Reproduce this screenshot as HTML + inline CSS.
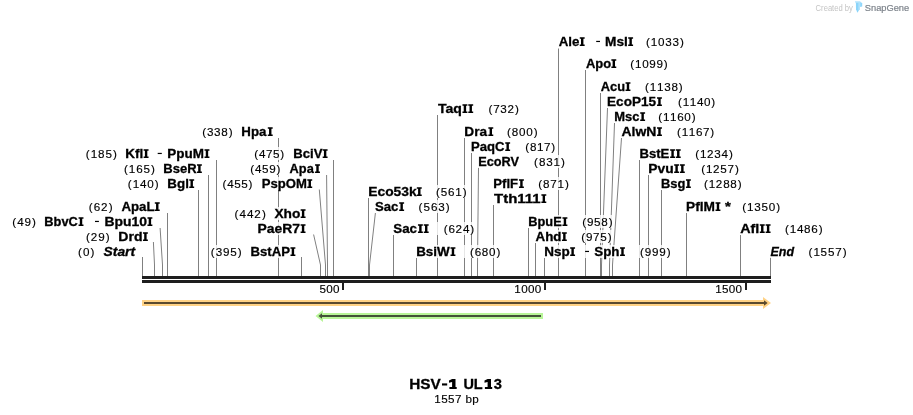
<!DOCTYPE html>
<html><head><meta charset="utf-8"><style>
html,body{margin:0;padding:0;background:#fff;width:913px;height:415px;overflow:hidden}
svg{display:block;will-change:transform}
text{font-family:"Liberation Sans",sans-serif}
</style></head><body>
<svg width="913" height="415" viewBox="0 0 913 415">
<g fill="none" stroke="#808080" stroke-width="1">
<path d="M142.5 257V276"/>
<path d="M153.4 242L154.5 265V276"/>
<path d="M160.1 228L162.5 265V276"/>
<path d="M167.5 213V276"/>
<path d="M198.5 190V276"/>
<path d="M208.5 175V276"/>
<path d="M216.5 160V276"/>
<path d="M278.5 138V276"/>
<path d="M301.5 257V276"/>
<path d="M313.6 234.5L320.5 265V276"/>
<path d="M319.3 189.5L325.5 265V276"/>
<path d="M326.6 175L327.5 265V276"/>
<path d="M333.5 160V276"/>
<path d="M368.5 198V276"/>
<path d="M375.4 213L369.5 265V276"/>
<path d="M393.5 235V276"/>
<path d="M416.5 258V276"/>
<path d="M437.5 115V276"/>
<path d="M464.5 138V276"/>
<path d="M471.5 153V276"/>
<path d="M478.5 167.5L477.5 265V276"/>
<path d="M493.5 205V276"/>
<path d="M528.5 228V276"/>
<path d="M535.5 243V276"/>
<path d="M544.5 258V276"/>
<path d="M558.5 48.5V276"/>
<path d="M585.5 70V276"/>
<path d="M600.5 93V276"/>
<path d="M607.5 108L601.5 265V276"/>
<path d="M614.5 123L609.5 265V276"/>
<path d="M621.5 138L612.5 265V276"/>
<path d="M639.5 160V276"/>
<path d="M648.5 175V276"/>
<path d="M661.5 190V276"/>
<path d="M686.5 213V276"/>
<path d="M740.5 235V276"/>
<path d="M770.5 257V276"/>
</g>
<g fill="#fff" fill-opacity="0.8">
<rect x="76.5" y="245" width="61.5" height="13"/>
<rect x="84.6" y="230" width="65.7" height="13"/>
<rect x="10.7" y="215" width="144.1" height="13"/>
<rect x="87.3" y="200" width="74.8" height="13"/>
<rect x="126.3" y="177" width="70.3" height="13"/>
<rect x="122.5" y="162" width="81.8" height="13"/>
<rect x="84.3" y="147" width="127.5" height="13"/>
<rect x="200.7" y="125" width="74.4" height="13"/>
<rect x="209.3" y="245" width="88.5" height="13"/>
<rect x="233.1" y="207" width="74.9" height="13"/>
<rect x="255.9" y="222" width="52.1" height="13"/>
<rect x="221.0" y="177" width="93.6" height="13"/>
<rect x="248.9" y="162" width="73.4" height="13"/>
<rect x="252.8" y="147" width="77.2" height="13"/>
<rect x="366.7" y="185" width="101.3" height="13"/>
<rect x="372.9" y="200" width="78.3" height="13"/>
<rect x="391.3" y="222" width="84.4" height="13"/>
<rect x="414.6" y="245" width="87.2" height="13"/>
<rect x="435.6" y="102" width="84.7" height="13"/>
<rect x="462.8" y="125" width="76.3" height="13"/>
<rect x="469.3" y="140" width="87.4" height="13"/>
<rect x="476.6" y="155" width="89.9" height="13"/>
<rect x="491.7" y="177" width="78.6" height="13"/>
<rect x="491.7" y="192" width="57.0" height="13"/>
<rect x="526.7" y="215" width="87.4" height="13"/>
<rect x="533.4" y="230" width="79.6" height="13"/>
<rect x="542.7" y="245" width="129.3" height="13"/>
<rect x="556.6" y="35" width="128.8" height="13"/>
<rect x="583.8" y="57" width="85.4" height="13"/>
<rect x="598.7" y="80" width="85.5" height="13"/>
<rect x="605.5" y="95" width="111.2" height="13"/>
<rect x="612.7" y="110" width="84.3" height="13"/>
<rect x="619.4" y="125" width="96.3" height="13"/>
<rect x="637.8" y="147" width="96.5" height="13"/>
<rect x="646.7" y="162" width="93.6" height="13"/>
<rect x="659.4" y="177" width="83.6" height="13"/>
<rect x="684.5" y="200" width="97.0" height="13"/>
<rect x="738.1" y="222" width="85.9" height="13"/>
<rect x="768.3" y="245" width="79.7" height="13"/>
</g>
<g fill="#000">
<text x="78.02 83.01 90.60" y="256" font-size="11.66" font-weight="400" stroke="#000" stroke-width="0.15">(0)</text>
<text x="103.54" y="256" font-size="12.72" font-weight="700" font-style="italic" stroke="#000" stroke-width="0.3" textLength="31.57" lengthAdjust="spacingAndGlyphs">Start</text>
<text x="86.09 90.78 98.16 105.63" y="241" font-size="11.66" font-weight="400" stroke="#000" stroke-width="0.15">(29)</text>
<text x="118.34" y="241" font-size="12.72" font-weight="700" stroke="#000" stroke-width="0.3" textLength="24.19" lengthAdjust="spacingAndGlyphs">Drd</text>
<path d="M142.96 232.25h4.90v1.40h-1.25v5.95h1.25v1.40h-4.90v-1.40h1.25v-5.95h-1.25z"/>
<text x="12.21 17.13 24.46 32.02" y="226" font-size="11.66" font-weight="400" stroke="#000" stroke-width="0.15">(49)</text>
<text x="44.32" y="226" font-size="12.72" font-weight="700" stroke="#000" stroke-width="0.3" textLength="33.48" lengthAdjust="spacingAndGlyphs">BbvC</text>
<path d="M78.57 217.25h4.90v1.40h-1.25v5.95h1.25v1.40h-4.90v-1.40h1.25v-5.95h-1.25z"/>
<text x="104.54" y="226" font-size="12.72" font-weight="700" stroke="#000" stroke-width="0.3" textLength="42.58" lengthAdjust="spacingAndGlyphs">Bpu10</text>
<path d="M147.46 217.25h4.90v1.40h-1.25v5.95h1.25v1.40h-4.90v-1.40h1.25v-5.95h-1.25z"/>
<text x="88.82 93.82 101.08 108.80" y="211" font-size="11.66" font-weight="400" stroke="#000" stroke-width="0.15">(62)</text>
<text x="121.42" y="211" font-size="12.72" font-weight="700" stroke="#000" stroke-width="0.3" textLength="33.17" lengthAdjust="spacingAndGlyphs">ApaL</text>
<path d="M154.81 202.25h4.90v1.40h-1.25v5.95h1.25v1.40h-4.90v-1.40h1.25v-5.95h-1.25z"/>
<text x="127.80 132.63 139.96 147.26 154.73" y="188" font-size="11.66" font-weight="400" stroke="#000" stroke-width="0.15">(140)</text>
<text x="167.38" y="188" font-size="12.72" font-weight="700" stroke="#000" stroke-width="0.3" textLength="21.51" lengthAdjust="spacingAndGlyphs">Bgl</text>
<path d="M189.26 179.25h4.90v1.40h-1.25v5.95h1.25v1.40h-4.90v-1.40h1.25v-5.95h-1.25z"/>
<text x="124.00 128.83 136.19 143.40 150.93" y="173" font-size="11.66" font-weight="400" stroke="#000" stroke-width="0.15">(165)</text>
<text x="163.30" y="173" font-size="12.72" font-weight="700" stroke="#000" stroke-width="0.3" textLength="33.34" lengthAdjust="spacingAndGlyphs">BseR</text>
<path d="M196.96 164.25h4.90v1.40h-1.25v5.95h1.25v1.40h-4.90v-1.40h1.25v-5.95h-1.25z"/>
<text x="85.81 90.70 98.11 105.43 113.01" y="158" font-size="11.66" font-weight="400" stroke="#000" stroke-width="0.15">(185)</text>
<text x="125.27" y="158" font-size="12.72" font-weight="700" stroke="#000" stroke-width="0.3" textLength="17.95" lengthAdjust="spacingAndGlyphs">Kfl</text>
<path d="M143.65 149.25h4.90v1.40h-1.25v5.95h1.25v1.40h-4.90v-1.40h1.25v-5.95h-1.25z"/>
<text x="167.37" y="158" font-size="12.72" font-weight="700" stroke="#000" stroke-width="0.3" textLength="36.66" lengthAdjust="spacingAndGlyphs">PpuM</text>
<path d="M204.51 149.25h4.90v1.40h-1.25v5.95h1.25v1.40h-4.90v-1.40h1.25v-5.95h-1.25z"/>
<text x="202.17 206.94 214.11 221.28 228.65" y="136" font-size="11.66" font-weight="400" stroke="#000" stroke-width="0.15">(338)</text>
<text x="241.39" y="136" font-size="12.72" font-weight="700" stroke="#000" stroke-width="0.3" textLength="25.09" lengthAdjust="spacingAndGlyphs">Hpa</text>
<path d="M267.79 127.25h4.90v1.40h-1.25v5.95h1.25v1.40h-4.90v-1.40h1.25v-5.95h-1.25z"/>
<text x="210.79 215.64 222.88 230.13 237.63" y="256" font-size="11.66" font-weight="400" stroke="#000" stroke-width="0.15">(395)</text>
<text x="250.49" y="256" font-size="12.72" font-weight="700" stroke="#000" stroke-width="0.3" textLength="39.52" lengthAdjust="spacingAndGlyphs">BstAP</text>
<path d="M290.47 247.25h4.90v1.40h-1.25v5.95h1.25v1.40h-4.90v-1.40h1.25v-5.95h-1.25z"/>
<text x="234.62 239.61 247.06 254.36 262.10" y="218" font-size="11.66" font-weight="400" stroke="#000" stroke-width="0.15">(442)</text>
<text x="274.41" y="218" font-size="12.72" font-weight="700" stroke="#000" stroke-width="0.3" textLength="25.93" lengthAdjust="spacingAndGlyphs">Xho</text>
<path d="M300.66 209.25h4.90v1.40h-1.25v5.95h1.25v1.40h-4.90v-1.40h1.25v-5.95h-1.25z"/>
<text x="257.45" y="233" font-size="12.72" font-weight="700" stroke="#000" stroke-width="0.3" textLength="42.44" lengthAdjust="spacingAndGlyphs">PaeR7</text>
<path d="M300.61 224.25h4.90v1.40h-1.25v5.95h1.25v1.40h-4.90v-1.40h1.25v-5.95h-1.25z"/>
<text x="222.46 227.14 234.15 241.23 248.57" y="188" font-size="11.66" font-weight="400" stroke="#000" stroke-width="0.15">(455)</text>
<text x="261.70" y="188" font-size="12.72" font-weight="700" stroke="#000" stroke-width="0.3" textLength="45.13" lengthAdjust="spacingAndGlyphs">PspOM</text>
<path d="M307.30 179.25h4.90v1.40h-1.25v5.95h1.25v1.40h-4.90v-1.40h1.25v-5.95h-1.25z"/>
<text x="250.36 255.04 262.05 269.15 276.47" y="173" font-size="11.66" font-weight="400" stroke="#000" stroke-width="0.15">(459)</text>
<text x="289.63" y="173" font-size="12.72" font-weight="700" stroke="#000" stroke-width="0.3" textLength="24.18" lengthAdjust="spacingAndGlyphs">Apa</text>
<path d="M315.05 164.25h4.90v1.40h-1.25v5.95h1.25v1.40h-4.90v-1.40h1.25v-5.95h-1.25z"/>
<text x="254.26 258.94 265.98 273.03 280.37" y="158" font-size="11.66" font-weight="400" stroke="#000" stroke-width="0.15">(475)</text>
<text x="293.30" y="158" font-size="12.72" font-weight="700" stroke="#000" stroke-width="0.3" textLength="29.14" lengthAdjust="spacingAndGlyphs">BciV</text>
<path d="M322.68 149.25h4.90v1.40h-1.25v5.95h1.25v1.40h-4.90v-1.40h1.25v-5.95h-1.25z"/>
<text x="368.25" y="196" font-size="12.72" font-weight="700" stroke="#000" stroke-width="0.3" textLength="48.43" lengthAdjust="spacingAndGlyphs">Eco53k</text>
<path d="M416.84 187.25h4.90v1.40h-1.25v5.95h1.25v1.40h-4.90v-1.40h1.25v-5.95h-1.25z"/>
<text x="436.08 440.80 448.09 455.23 462.65" y="196" font-size="11.66" font-weight="400" stroke="#000" stroke-width="0.15">(561)</text>
<text x="374.96" y="211" font-size="12.72" font-weight="700" stroke="#000" stroke-width="0.3" textLength="23.38" lengthAdjust="spacingAndGlyphs">Sac</text>
<path d="M399.21 202.25h4.90v1.40h-1.25v5.95h1.25v1.40h-4.90v-1.40h1.25v-5.95h-1.25z"/>
<text x="418.51 423.40 430.89 438.26 445.81" y="211" font-size="11.66" font-weight="400" stroke="#000" stroke-width="0.15">(563)</text>
<text x="393.35" y="233" font-size="12.72" font-weight="700" stroke="#000" stroke-width="0.3" textLength="23.69" lengthAdjust="spacingAndGlyphs">Sac</text>
<path d="M417.95 224.25h4.90v1.40h-1.25v5.95h1.25v1.40h-4.90v-1.40h1.25v-5.95h-1.25z"/>
<path d="M423.77 224.25h4.90v1.40h-1.25v5.95h1.25v1.40h-4.90v-1.40h1.25v-5.95h-1.25z"/>
<text x="443.78 448.59 455.62 462.96 470.35" y="233" font-size="11.66" font-weight="400" stroke="#000" stroke-width="0.15">(624)</text>
<text x="416.18" y="256" font-size="12.72" font-weight="700" stroke="#000" stroke-width="0.3" textLength="33.59" lengthAdjust="spacingAndGlyphs">BsiW</text>
<path d="M450.51 247.25h4.90v1.40h-1.25v5.95h1.25v1.40h-4.90v-1.40h1.25v-5.95h-1.25z"/>
<text x="469.88 474.69 481.86 489.06 496.45" y="256" font-size="11.66" font-weight="400" stroke="#000" stroke-width="0.15">(680)</text>
<text x="437.91" y="113" font-size="12.72" font-weight="700" stroke="#000" stroke-width="0.3" textLength="23.96" lengthAdjust="spacingAndGlyphs">Taq</text>
<path d="M462.47 104.25h4.90v1.40h-1.25v5.95h1.25v1.40h-4.90v-1.40h1.25v-5.95h-1.25z"/>
<path d="M468.28 104.25h4.90v1.40h-1.25v5.95h1.25v1.40h-4.90v-1.40h1.25v-5.95h-1.25z"/>
<text x="488.38 493.13 500.36 507.42 514.95" y="113" font-size="11.66" font-weight="400" stroke="#000" stroke-width="0.15">(732)</text>
<text x="464.37" y="136" font-size="12.72" font-weight="700" stroke="#000" stroke-width="0.3" textLength="22.68" lengthAdjust="spacingAndGlyphs">Dra</text>
<path d="M488.36 127.25h4.90v1.40h-1.25v5.95h1.25v1.40h-4.90v-1.40h1.25v-5.95h-1.25z"/>
<text x="506.99 511.81 519.06 526.31 533.74" y="136" font-size="11.66" font-weight="400" stroke="#000" stroke-width="0.15">(800)</text>
<text x="470.90" y="151" font-size="12.72" font-weight="700" stroke="#000" stroke-width="0.3" textLength="33.50" lengthAdjust="spacingAndGlyphs">PaqC</text>
<path d="M505.23 142.25h4.90v1.40h-1.25v5.95h1.25v1.40h-4.90v-1.40h1.25v-5.95h-1.25z"/>
<text x="525.26 529.94 536.97 544.05 551.37" y="151" font-size="11.66" font-weight="400" stroke="#000" stroke-width="0.15">(817)</text>
<text x="478.22" y="166" font-size="12.72" font-weight="700" stroke="#000" stroke-width="0.3" textLength="40.90" lengthAdjust="spacingAndGlyphs">EcoRV</text>
<text x="534.10 538.98 546.31 553.60 561.12" y="166" font-size="11.66" font-weight="400" stroke="#000" stroke-width="0.15">(831)</text>
<text x="493.30" y="188" font-size="12.72" font-weight="700" stroke="#000" stroke-width="0.3" textLength="24.82" lengthAdjust="spacingAndGlyphs">PflF</text>
<path d="M518.98 179.25h4.90v1.40h-1.25v5.95h1.25v1.40h-4.90v-1.40h1.25v-5.95h-1.25z"/>
<text x="538.19 543.01 550.23 557.48 564.94" y="188" font-size="11.66" font-weight="400" stroke="#000" stroke-width="0.15">(871)</text>
<text x="494.00" y="203" font-size="12.72" font-weight="700" stroke="#000" stroke-width="0.3" textLength="46.64" lengthAdjust="spacingAndGlyphs">Tth111</text>
<path d="M541.38 194.25h4.90v1.40h-1.25v5.95h1.25v1.40h-4.90v-1.40h1.25v-5.95h-1.25z"/>
<text x="528.32" y="226" font-size="12.72" font-weight="700" stroke="#000" stroke-width="0.3" textLength="33.42" lengthAdjust="spacingAndGlyphs">BpuE</text>
<path d="M562.48 217.25h4.90v1.40h-1.25v5.95h1.25v1.40h-4.90v-1.40h1.25v-5.95h-1.25z"/>
<text x="582.18 586.93 594.10 601.36 608.75" y="226" font-size="11.66" font-weight="400" stroke="#000" stroke-width="0.15">(958)</text>
<text x="535.52" y="241" font-size="12.72" font-weight="700" stroke="#000" stroke-width="0.3" textLength="25.92" lengthAdjust="spacingAndGlyphs">Ahd</text>
<path d="M561.91 232.25h4.90v1.40h-1.25v5.95h1.25v1.40h-4.90v-1.40h1.25v-5.95h-1.25z"/>
<text x="581.17 585.91 593.08 600.23 607.65" y="241" font-size="11.66" font-weight="400" stroke="#000" stroke-width="0.15">(975)</text>
<text x="544.27" y="256" font-size="12.72" font-weight="700" stroke="#000" stroke-width="0.3" textLength="25.47" lengthAdjust="spacingAndGlyphs">Nsp</text>
<path d="M570.16 247.25h4.90v1.40h-1.25v5.95h1.25v1.40h-4.90v-1.40h1.25v-5.95h-1.25z"/>
<text x="594.25" y="256" font-size="12.72" font-weight="700" stroke="#000" stroke-width="0.3" textLength="25.26" lengthAdjust="spacingAndGlyphs">Sph</text>
<path d="M620.04 247.25h4.90v1.40h-1.25v5.95h1.25v1.40h-4.90v-1.40h1.25v-5.95h-1.25z"/>
<text x="639.98 644.76 651.98 659.21 666.64" y="256" font-size="11.66" font-weight="400" stroke="#000" stroke-width="0.15">(999)</text>
<text x="558.72" y="46" font-size="12.72" font-weight="700" stroke="#000" stroke-width="0.3" textLength="20.72" lengthAdjust="spacingAndGlyphs">Ale</text>
<path d="M579.76 37.25h4.90v1.40h-1.25v5.95h1.25v1.40h-4.90v-1.40h1.25v-5.95h-1.25z"/>
<text x="605.06" y="46" font-size="12.72" font-weight="700" stroke="#000" stroke-width="0.3" textLength="22.77" lengthAdjust="spacingAndGlyphs">Msl</text>
<path d="M628.18 37.25h4.90v1.40h-1.25v5.95h1.25v1.40h-4.90v-1.40h1.25v-5.95h-1.25z"/>
<text x="645.99 650.79 658.08 665.34 672.60 680.03" y="46" font-size="11.66" font-weight="400" stroke="#000" stroke-width="0.15">(1033)</text>
<text x="585.93" y="68" font-size="12.72" font-weight="700" stroke="#000" stroke-width="0.3" textLength="25.22" lengthAdjust="spacingAndGlyphs">Apo</text>
<path d="M611.36 59.25h4.90v1.40h-1.25v5.95h1.25v1.40h-4.90v-1.40h1.25v-5.95h-1.25z"/>
<text x="630.27 634.99 642.18 649.31 656.47 663.85" y="68" font-size="11.66" font-weight="400" stroke="#000" stroke-width="0.15">(1099)</text>
<text x="600.83" y="91" font-size="12.72" font-weight="700" stroke="#000" stroke-width="0.3" textLength="24.27" lengthAdjust="spacingAndGlyphs">Acu</text>
<path d="M625.53 82.25h4.90v1.40h-1.25v5.95h1.25v1.40h-4.90v-1.40h1.25v-5.95h-1.25z"/>
<text x="644.98 649.75 656.97 664.22 671.44 678.84" y="91" font-size="11.66" font-weight="400" stroke="#000" stroke-width="0.15">(1138)</text>
<text x="607.07" y="106" font-size="12.72" font-weight="700" stroke="#000" stroke-width="0.3" textLength="49.04" lengthAdjust="spacingAndGlyphs">EcoP15</text>
<path d="M657.01 97.25h4.90v1.40h-1.25v5.95h1.25v1.40h-4.90v-1.40h1.25v-5.95h-1.25z"/>
<text x="678.06 682.73 689.83 696.96 704.06 711.36" y="106" font-size="11.66" font-weight="400" stroke="#000" stroke-width="0.15">(1140)</text>
<text x="614.31" y="121" font-size="12.72" font-weight="700" stroke="#000" stroke-width="0.3" textLength="25.14" lengthAdjust="spacingAndGlyphs">Msc</text>
<path d="M640.19 112.25h4.90v1.40h-1.25v5.95h1.25v1.40h-4.90v-1.40h1.25v-5.95h-1.25z"/>
<text x="658.26 662.95 670.07 677.25 684.34 691.66" y="121" font-size="11.66" font-weight="400" stroke="#000" stroke-width="0.15">(1160)</text>
<text x="621.50" y="136" font-size="12.72" font-weight="700" stroke="#000" stroke-width="0.3" textLength="34.92" lengthAdjust="spacingAndGlyphs">AlwN</text>
<path d="M657.03 127.25h4.90v1.40h-1.25v5.95h1.25v1.40h-4.90v-1.40h1.25v-5.95h-1.25z"/>
<text x="677.06 681.73 688.83 695.99 703.03 710.36" y="136" font-size="11.66" font-weight="400" stroke="#000" stroke-width="0.15">(1167)</text>
<text x="639.40" y="158" font-size="12.72" font-weight="700" stroke="#000" stroke-width="0.3" textLength="29.93" lengthAdjust="spacingAndGlyphs">BstE</text>
<path d="M670.12 149.25h4.90v1.40h-1.25v5.95h1.25v1.40h-4.90v-1.40h1.25v-5.95h-1.25z"/>
<path d="M675.82 149.25h4.90v1.40h-1.25v5.95h1.25v1.40h-4.90v-1.40h1.25v-5.95h-1.25z"/>
<text x="695.18 699.93 707.02 714.36 721.56 728.95" y="158" font-size="11.66" font-weight="400" stroke="#000" stroke-width="0.15">(1234)</text>
<text x="648.25" y="173" font-size="12.72" font-weight="700" stroke="#000" stroke-width="0.3" textLength="25.35" lengthAdjust="spacingAndGlyphs">Pvu</text>
<path d="M674.15 164.25h4.90v1.40h-1.25v5.95h1.25v1.40h-4.90v-1.40h1.25v-5.95h-1.25z"/>
<path d="M679.90 164.25h4.90v1.40h-1.25v5.95h1.25v1.40h-4.90v-1.40h1.25v-5.95h-1.25z"/>
<text x="701.18 705.93 713.02 720.30 727.53 734.95" y="173" font-size="11.66" font-weight="400" stroke="#000" stroke-width="0.15">(1257)</text>
<text x="661.01" y="188" font-size="12.72" font-weight="700" stroke="#000" stroke-width="0.3" textLength="24.35" lengthAdjust="spacingAndGlyphs">Bsg</text>
<path d="M685.96 179.25h4.90v1.40h-1.25v5.95h1.25v1.40h-4.90v-1.40h1.25v-5.95h-1.25z"/>
<text x="704.07 708.79 715.84 723.14 730.30 737.65" y="188" font-size="11.66" font-weight="400" stroke="#000" stroke-width="0.15">(1288)</text>
<text x="686.06" y="211" font-size="12.72" font-weight="700" stroke="#000" stroke-width="0.3" textLength="28.97" lengthAdjust="spacingAndGlyphs">PflM</text>
<path d="M715.52 202.25h4.90v1.40h-1.25v5.95h1.25v1.40h-4.90v-1.40h1.25v-5.95h-1.25z"/>
<text x="725.08" y="211" font-size="12.72" font-weight="700" stroke="#000" stroke-width="0.3" textLength="5.83" lengthAdjust="spacingAndGlyphs">*</text>
<text x="742.19 746.97 754.24 761.42 768.72 776.14" y="211" font-size="11.66" font-weight="400" stroke="#000" stroke-width="0.15">(1350)</text>
<text x="740.19" y="233" font-size="12.72" font-weight="700" stroke="#000" stroke-width="0.3" textLength="19.14" lengthAdjust="spacingAndGlyphs">Afl</text>
<path d="M759.81 224.25h4.90v1.40h-1.25v5.95h1.25v1.40h-4.90v-1.40h1.25v-5.95h-1.25z"/>
<path d="M765.66 224.25h4.90v1.40h-1.25v5.95h1.25v1.40h-4.90v-1.40h1.25v-5.95h-1.25z"/>
<text x="784.98 789.71 796.92 804.10 811.31 818.65" y="233" font-size="11.66" font-weight="400" stroke="#000" stroke-width="0.15">(1486)</text>
<text x="770.50" y="256" font-size="12.72" font-weight="700" font-style="italic" stroke="#000" stroke-width="0.3" textLength="23.55" lengthAdjust="spacingAndGlyphs">End</text>
<text x="808.59 813.39 820.62 827.88 835.17 842.63" y="256" font-size="11.66" font-weight="400" stroke="#000" stroke-width="0.15">(1557)</text>
<rect x="95.00" y="220.85" width="3.90" height="1.2"/>
<rect x="157.70" y="152.85" width="4.10" height="1.2"/>
<rect x="585.10" y="250.85" width="3.90" height="1.2"/>
<rect x="596.20" y="40.85" width="3.80" height="1.2"/>

</g>
<g fill="#1e1e1e">
<rect x="142" y="276" width="629" height="3"/>
<rect x="142" y="280" width="629" height="3"/>
<rect x="342" y="283" width="2" height="7"/>
<rect x="544" y="283" width="2" height="7"/>
<rect x="745" y="283" width="2" height="7"/>
</g>
<g fill="#000">
<text x="319.47 326.24 332.95" y="293" font-size="11.66" font-weight="400" stroke="#000" stroke-width="0.15">500</text>
<text x="514.30 521.16 527.99 534.81" y="293" font-size="11.66" font-weight="400" stroke="#000" stroke-width="0.15">1000</text>
<text x="715.37 722.07 728.84 735.55" y="293" font-size="11.66" font-weight="400" stroke="#000" stroke-width="0.15">1500</text>
<text x="409.25" y="389" font-size="14.83" font-weight="700" stroke="#000" stroke-width="0.3" textLength="31.59" lengthAdjust="spacingAndGlyphs">HSV</text>
<rect x="442.0" y="383.4" width="5.2" height="2.1"/>
<path d="M452.1 379.1H455.5V387.1H456.7V389H449.4V387.1H452.1V381.9L449.0 382.8V380.6Z"/>
<text x="463.38" y="389" font-size="14.83" font-weight="700" stroke="#000" stroke-width="0.3" textLength="19.35" lengthAdjust="spacingAndGlyphs">UL</text>
<path d="M487.6 379.1H491.0V387.1H492.2V389H484.9V387.1H487.6V381.9L484.5 382.8V380.6Z"/>
<text x="493.78" y="389" font-size="14.83" font-weight="700" stroke="#000" stroke-width="0.3" textLength="8.20" lengthAdjust="spacingAndGlyphs">3</text>
<text x="434.31 441.15 448.00 454.88" y="403" font-size="11.66" font-weight="400" stroke="#000" stroke-width="0.15">1557</text>
<text x="465.43 472.31" y="403" font-size="11.66" font-weight="400" stroke="#000" stroke-width="0.15">bp</text>
</g>
<!-- orange feature -->
<path d="M142 300H763V297L771 303L763 309V306H142Z" fill="#ffd285"/>
<path d="M144 302H764V300.2L767.6 303L764 305.8V304H144Z" fill="#5a4a2f"/>
<!-- green feature -->
<path d="M543 313H323V310L315.5 316L323 322V319H543Z" fill="#b8f598"/>
<path d="M541 315H322V313.2L318.5 316L322 318.8V317H541Z" fill="#435138"/>
<!-- snapgene logo -->
<text x="815.6" y="10.7" font-size="8.6" fill="#c4c4c4" textLength="37.3" lengthAdjust="spacingAndGlyphs">Created by</text>
<path d="M855 1.1H860.4V2.7H855Z" fill="#bfe8fd"/>
<path d="M855.9 2.6H859.9L859.6 9.2L857.4 12.7L856 9.2Z" fill="#8cd5fa"/>
<path d="M858.4 2.6H859.9L859.6 9.2L858.4 11Z" fill="#b2e3fc"/>
<path d="M860.1 2.1L861.4 2.5L862.2 3.6V6.6L860.1 6.9Z" fill="#8fd6fb"/>
<text x="864.8" y="10.9" font-size="9.6" fill="#7d838b" stroke="#7d838b" stroke-width="0.2" textLength="44.4" lengthAdjust="spacingAndGlyphs">SnapGene</text>
</svg>
</body></html>
